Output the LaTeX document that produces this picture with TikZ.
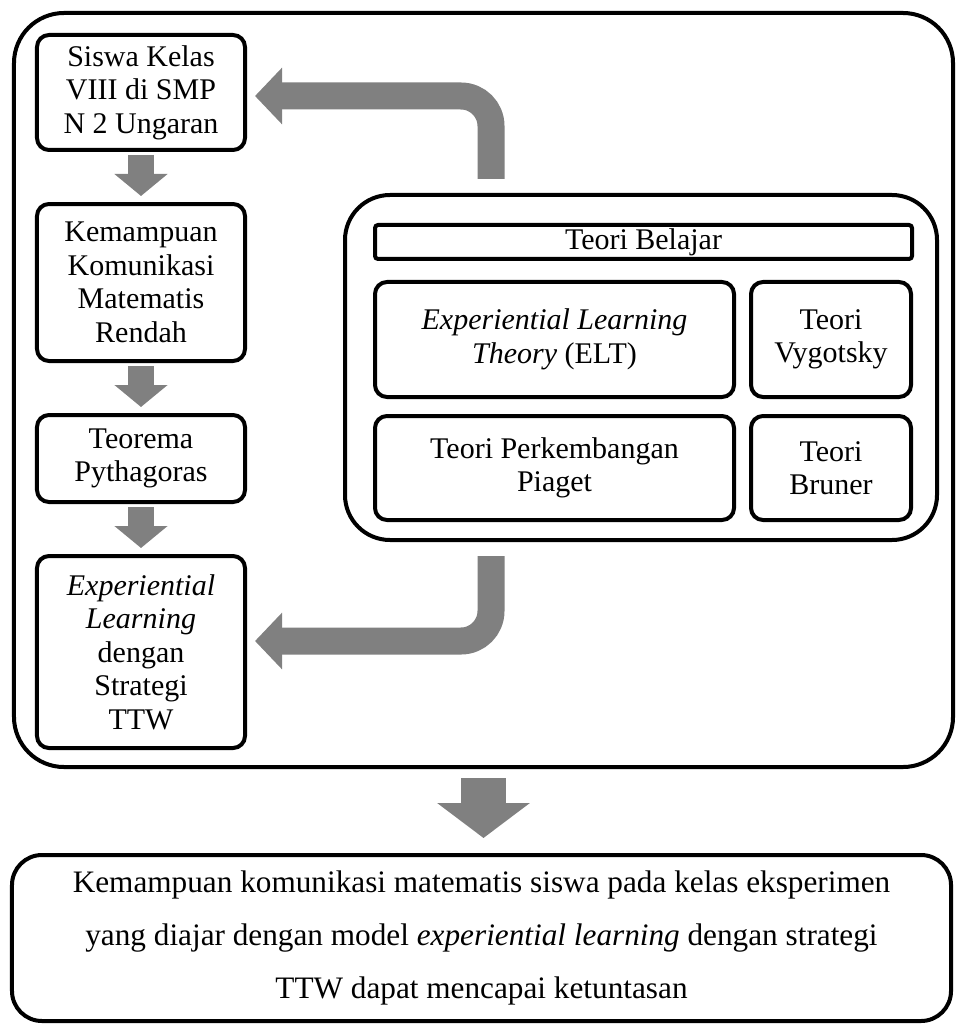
\documentclass[tikz,border=0pt]{standalone}
\usepackage{fontspec}
\setmainfont{Liberation Serif}
\usetikzlibrary{arrows.meta,chains,positioning,scopes}

\begin{document}
\begin{tikzpicture}[
            x=0.4pt, y=-0.4pt,
            node distance = 21.6pt,
            font=\fontsize{12}{13.4}\selectfont,
            FrameBlock/.style={draw, line width=1.6pt, outer sep=0pt},
            StepBlock/.style={draw, line width=1.6pt, rounded corners=4.8pt, align=center, minimum width=83.2pt, inner sep=1pt, outer sep=0pt, on chain},
            TheoryBlock/.style={draw, line width=1.6pt, rounded corners=4.8pt, align=center, inner sep=1pt, outer sep=0pt},
            FlowArrow/.style={draw=gray, line width=10.4pt, -{Triangle[width=20.8pt, length=8.8pt]}, shorten <=2pt, shorten >=3.2pt},
            BendArrow/.style={draw=gray, line width=10.8pt, rounded corners=12pt, -{Triangle[width=22pt, length=10.8pt]}, shorten >=4pt},
            DropArrow/.style={draw=gray, line width=18pt, -{Triangle[width=36.4pt, length=14pt]}, shorten <=4.4pt, shorten >=6.8pt},
            ]
            \useasboundingbox (0,0) rectangle (955,1025);

            \node[FrameBlock, rounded corners=20pt, minimum width=375.6pt, minimum height=301.6pt] (frame) at (483.5,390) {};
            \node[FrameBlock, rounded corners=18pt, minimum width=236.8pt, minimum height=138pt] (teori) at (641,367.5) {};

            { [start chain = going below]
            \node [StepBlock, minimum height=46pt] (siswa) at (141,92.5) {Siswa Kelas\\VIII di SMP\\N 2 Ungaran};
            \node [StepBlock, minimum height=62.8pt] (rendah) {Kemampuan\\Komunikasi\\Matematis\\Rendah};
            \node [StepBlock, minimum height=34.8pt] (pythagoras) {Teorema\\Pythagoras};
            \node [StepBlock, minimum height=76.8pt] (ttw) {\textit{Experiential}\\\textit{Learning}\\dengan\\Strategi\\TTW};
            }

            \node[TheoryBlock, rounded corners=1.2pt, minimum width=214.8pt, minimum height=13.6pt, inner sep=0pt] (belajar) at (643.5,242) {Teori Belajar};

            { [start chain = going right, node distance = 6.8pt]
            \node[TheoryBlock, on chain, minimum width=143.6pt, minimum height=46pt] (elt) at (554.5,339.5) {\textit{Experiential Learning}\\\textit{Theory} (ELT)};
            \node[TheoryBlock, on chain, minimum width=64pt, minimum height=46pt] (vygotsky) {Teori\\Vygotsky};
            }

            { [start chain = going right, node distance = 6.8pt]
            \node[TheoryBlock, on chain, minimum width=143.6pt, minimum height=41.6pt] (piaget) at (554.5,468) {Teori Perkembangan\\Piaget};
            \node[TheoryBlock, on chain, minimum width=64pt, minimum height=41.6pt] (bruner) {Teori\\Bruner};
            }

            \draw[FlowArrow] (siswa) -- (rendah);
            \draw[FlowArrow] (rendah) -- (pythagoras);
            \draw[FlowArrow] (pythagoras) -- (ttw);

            \coordinate (naik) at ([xshift=-60pt, yshift=6.4pt]teori.north);
            \coordinate (turun) at ([xshift=-60pt, yshift=-6.4pt]teori.south);
            \draw[BendArrow] (naik) |- ([yshift=-1.4pt]siswa.east);
            \draw[BendArrow] (turun) |- ([yshift=4.4pt]ttw.east);

            \node[FrameBlock, rounded corners=12pt, minimum width=375.6pt, minimum height=66.4pt, align=center, font=\fontsize{12.5}{21.2}\selectfont] (hasil) at (481.5,938) {Kemampuan komunikasi matematis siswa pada kelas eksperimen\\yang diajar dengan model \textit{experiential learning} dengan strategi\\TTW dapat mencapai ketuntasan};
            \draw[DropArrow] (frame.south) -- (frame.south |- hasil.north);

        \end{tikzpicture}
\end{document}
